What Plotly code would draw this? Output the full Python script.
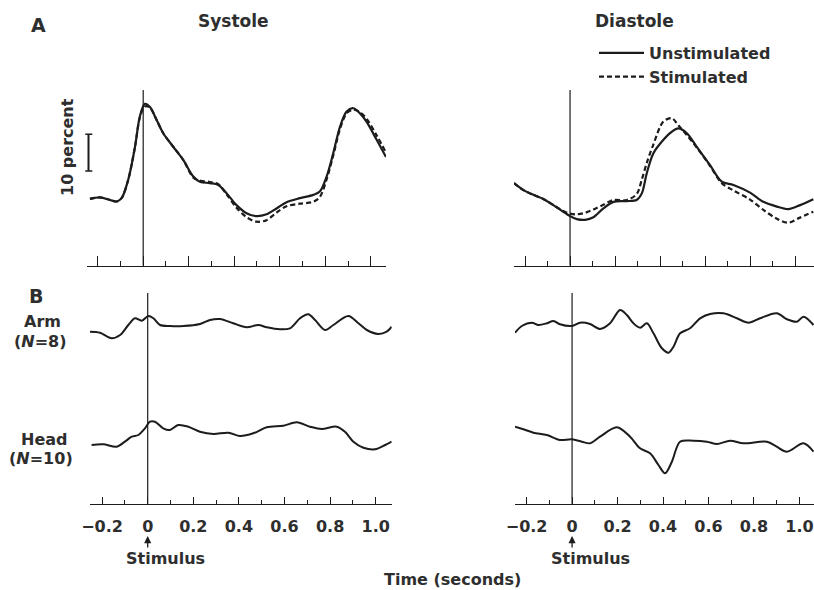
import plotly.graph_objects as go

# ---------------- DATA ----------------
# Panel A (percent change in blood flow), time in seconds
sys_t = [-0.234, -0.19, -0.146, -0.117, -0.095, -0.066, -0.036, -0.015, 0.007, 0.029, 0.059,
         0.088, 0.132, 0.176, 0.22, 0.249, 0.293, 0.33, 0.367, 0.41, 0.454, 0.498, 0.542,
         0.586, 0.63, 0.689, 0.747, 0.776, 0.806, 0.835, 0.865, 0.894, 0.923, 0.953, 0.982,
         1.026, 1.067]
sys_unstim = [18.2, 18.6, 17.9, 17.5, 18.4, 23.4, 32.4, 40.6, 44.1, 43.3, 39.7,
              36.1, 32.4, 28.8, 24.3, 22.9, 22.5, 22.0, 19.7, 16.5, 14.3, 13.5, 14.0,
              15.6, 17.3, 18.4, 19.3, 20.2, 24.3, 30.6, 37.9, 42.0, 42.9, 41.5, 39.2,
              34.3, 29.6]
sys_stim = [18.2, 18.6, 17.9, 17.5, 18.4, 23.4, 32.4, 40.3, 43.4, 43.1, 39.7,
            36.1, 32.4, 28.8, 24.0, 23.2, 22.8, 22.2, 19.4, 15.8, 13.2, 12.0, 12.4,
            14.5, 16.2, 16.9, 17.4, 18.7, 23.5, 30.0, 37.3, 41.5, 42.5, 41.8, 40.0,
            35.5, 30.8]

dia_t = [-0.249, -0.207, -0.163, -0.119, -0.074, -0.03, 0.0, 0.03, 0.067, 0.104, 0.148,
         0.193, 0.252, 0.296, 0.319, 0.341, 0.37, 0.415, 0.452, 0.481, 0.519, 0.563,
         0.622, 0.674, 0.726, 0.8, 0.859, 0.919, 0.97, 1.022, 1.081]
dia_unstim = [22.5, 20.6, 19.3, 18.2, 16.5, 14.7, 13.5, 12.7, 12.5, 13.2, 15.6,
              17.4, 17.6, 17.9, 19.7, 25.2, 30.6, 34.3, 36.5, 37.4, 36.1, 32.4,
              27.4, 22.9, 22.0, 19.9, 17.4, 16.1, 15.4, 16.5, 18.1]
dia_stim = [22.5, 20.6, 19.3, 18.2, 16.5, 14.9, 14.2, 14.0, 14.4, 15.3, 16.6,
            17.9, 17.9, 19.5, 23.5, 28.0, 33.0, 39.3, 40.2, 38.3, 35.6, 32.2,
            27.2, 22.5, 20.5, 18.0, 15.2, 12.8, 11.7, 13.1, 14.7]

# Panel B (difference traces, arbitrary units, offset for display)
arm_sys_t = [-0.253, -0.209, -0.158, -0.121, -0.085, -0.056, -0.026, 0.003, 0.025, 0.054,
             0.098, 0.156, 0.229, 0.273, 0.317, 0.375, 0.434, 0.485, 0.522, 0.58, 0.624,
             0.668, 0.704, 0.734, 0.778, 0.814, 0.88, 0.924, 0.961, 1.011, 1.048, 1.07]
arm_sys = [172.3, 171.3, 165.7, 169, 179, 185.7, 183.3, 188, 185.7, 179,
           178, 178, 180, 184, 185, 180.7, 176.7, 179, 176.7, 174.7, 175.7,
           185.7, 189.7, 184, 174, 179, 188, 180.7, 174, 170, 172.3, 177.3]
head_sys_t = [-0.246, -0.195, -0.136, -0.1, -0.07, -0.041, -0.012, 0.01, 0.032, 0.068,
              0.098, 0.134, 0.178, 0.229, 0.288, 0.354, 0.405, 0.463, 0.522, 0.595,
              0.654, 0.712, 0.763, 0.829, 0.865, 0.902, 0.946, 0.997, 1.041, 1.07]
head_sys = [59, 59.7, 57.3, 62.3, 67.3, 69, 75.7, 82.3, 82.3, 75.7,
            74, 79, 77.3, 72.3, 70, 71.3, 68, 70.7, 76.7, 78.3,
            81.7, 77.3, 75, 77.3, 72.3, 62.3, 56.3, 54.7, 59, 62.5]
arm_dia_t = [-0.251, -0.221, -0.177, -0.148, -0.111, -0.082, -0.053, -0.001, 0.035, 0.079,
             0.123, 0.167, 0.211, 0.241, 0.27, 0.299, 0.329, 0.358, 0.395, 0.424, 0.446,
             0.475, 0.519, 0.563, 0.607, 0.666, 0.725, 0.776, 0.827, 0.9, 0.945, 0.989,
             1.018, 1.062]
arm_dia = [171.3, 178, 181.3, 179, 180.7, 183, 179.7, 178, 181.3, 180,
           175, 180.7, 194, 189, 180.7, 176.3, 180.7, 170.7, 155.7, 151.3, 157.3,
           170.7, 175.7, 185.7, 190, 190.7, 185.7, 181.3, 185.7, 190.7, 184.7, 182.3,
           187.3, 179]
head_dia_t = [-0.251, -0.214, -0.17, -0.111, -0.053, -0.001, 0.043, 0.079, 0.123, 0.197,
              0.255, 0.299, 0.343, 0.38, 0.409, 0.439, 0.475, 0.534, 0.593, 0.637,
              0.695, 0.754, 0.857, 0.9, 0.945, 1.018, 1.062]
head_dia = [77.3, 74.7, 71.3, 69, 64, 64.7, 62.3, 60.7, 67.3, 76.7,
            67.3, 55.7, 50.7, 39, 30.7, 42.3, 62.3, 63.3, 62.3, 60,
            63.3, 60.7, 62.3, 57.3, 52.3, 60.7, 52.3]

tick_vals = [-0.2, 0, 0.2, 0.4, 0.6, 0.8, 1.0]
tick_text = ["\u22120.2", "0", "0.2", "0.4", "0.6", "0.8", "1.0"]
minor_vals = [-0.1, 0.1, 0.3, 0.5, 0.7, 0.9]
series_names = ["Unstimulated", "Stimulated"]
scale_bar_percent = 10

# ---------------- STYLE ----------------
W, H = 814, 590
INK = "#1c1c1c"
FONT = "DejaVu Sans"
TXT = dict(family=FONT, size=16, color="#2e2e2e", weight="bold")
DASH = "5px,3px"


def px_x(p):
    return p / W


def px_y(p):
    return 1 - p / H


fig = go.Figure()


def curve(x, y, xa, ya, dash="solid", width=2.2, name=None, show=False):
    fig.add_trace(go.Scatter(
        x=x, y=y, xaxis=xa, yaxis=ya, mode="lines", name=name, showlegend=show,
        legendgroup=name, hoverinfo="skip",
        line=dict(color=INK, width=width, dash=dash, shape="spline", smoothing=0.9)))


curve(sys_t, sys_stim, "x", "y", DASH, name=series_names[1])
curve(sys_t, sys_unstim, "x", "y", name=series_names[0])
curve(dia_t, dia_unstim, "x2", "y2", name=series_names[0], show=True)
curve(dia_t, dia_stim, "x2", "y2", DASH, name=series_names[1], show=True)
curve(arm_sys_t, arm_sys, "x3", "y3", width=2.0)
curve(head_sys_t, head_sys, "x3", "y3", width=2.0)
curve(arm_dia_t, arm_dia, "x4", "y4", width=2.0)
curve(head_dia_t, head_dia, "x4", "y4", width=2.0)

A_YR = [0, 47.87]
B_YR = [0, 211]


def xaxis(dom, rng, labels, ticklen, minorlen):
    d = dict(domain=[px_x(dom[0]), px_x(dom[1])], range=rng, showline=True, linecolor=INK,
             linewidth=1.4, showgrid=False, zeroline=False, ticks="inside", ticklen=ticklen,
             tickwidth=1.3, tickcolor=INK, tickmode="array", tickvals=tick_vals,
             ticktext=tick_text, showticklabels=labels, tickfont=TXT, automargin=False,
             minor=dict(tickmode="array", tickvals=minor_vals, ticks="inside",
                        ticklen=minorlen, tickwidth=1.3, tickcolor=INK))
    if labels:
        d["ticklabelstandoff"] = 8
    return d


def yaxis(dom, rng, anchor):
    return dict(domain=[px_y(dom[1]), px_y(dom[0])], range=rng, anchor=anchor,
                showline=False, showgrid=False, zeroline=False, showticklabels=False,
                ticks="", automargin=False)


fig.update_layout(
    width=W, height=H, margin=dict(l=0, r=0, t=0, b=0, autoexpand=False),
    paper_bgcolor="white", plot_bgcolor="rgba(0,0,0,0)",
    xaxis=xaxis((87, 386), [-0.247, 1.067], False, 10, 5),
    xaxis2=dict(xaxis((514, 814), [-0.249, 1.084], False, 10, 5), anchor="y2"),
    xaxis3=dict(xaxis((90, 391.7), [-0.253, 1.07], True, 7, 4), anchor="y3"),
    xaxis4=dict(xaxis((515, 814), [-0.251, 1.064], True, 7, 4), anchor="y4"),
    yaxis=yaxis((90, 265.7), A_YR, "x"),
    yaxis2=yaxis((90, 265.7), A_YR, "x2"),
    yaxis3=yaxis((293, 504), B_YR, "x3"),
    yaxis4=yaxis((293, 504), B_YR, "x4"),
    showlegend=True,
    legend=dict(x=px_x(594), y=px_y(36), xanchor="left", yanchor="top",
                bgcolor="rgba(0,0,0,0)", font=TXT, itemwidth=45, tracegroupgap=0),
)

# stimulus onset lines
for xa, ya, top in (("x", "y", A_YR[1]), ("x2", "y2", A_YR[1]),
                    ("x3", "y3", B_YR[1]), ("x4", "y4", B_YR[1])):
    fig.add_shape(type="line", xref=xa, yref=ya, x0=0, x1=0, y0=0, y1=top,
                  line=dict(color=INK, width=1.2))

# 10 percent scale bar
sb_y0 = 25.8
fig.add_shape(type="line", xref="paper", yref="y", x0=px_x(88.5), x1=px_x(88.5),
              y0=sb_y0, y1=sb_y0 + scale_bar_percent, line=dict(color=INK, width=2))
for yy in (sb_y0, sb_y0 + scale_bar_percent):
    fig.add_shape(type="line", xref="paper", yref="y", x0=px_x(85.3), x1=px_x(92.3),
                  y0=yy, y1=yy, line=dict(color=INK, width=1.6))


def label(text, x, y, size=16, angle=0, xanchor="center"):
    f = dict(TXT)
    f["size"] = size
    fig.add_annotation(text=text, x=px_x(x), y=px_y(y), xref="paper", yref="paper",
                       showarrow=False, font=f, textangle=angle, xanchor=xanchor,
                       yanchor="middle")


label("A", 38, 25, 19)
label("B", 36, 296, 19)
label("Systole", 233, 21, 17)
label("Diastole", 634, 21, 17)
label("10 percent", 68, 147, 16, angle=-90)
label("Arm", 42, 321)
label("(<i>N</i>=8)", 40, 341)
label("Head", 44, 439)
label("(<i>N</i>=10)", 41, 458)
label("Stimulus", 165, 558)
label("Stimulus", 590, 558)
label("Time (seconds)", 452, 579)

# stimulus arrows
for xa in ("x3", "x4"):
    fig.add_annotation(text="", x=0, y=px_y(536), xref=xa, yref="paper", showarrow=True,
                       ax=0, ay=13, axref="pixel", ayref="pixel", arrowhead=2,
                       arrowsize=1.1, arrowwidth=1.3, arrowcolor=INK)

fig.write_html("out.html", config={"displayModeBar": False},
               post_script="document.body.style.margin='0';")
